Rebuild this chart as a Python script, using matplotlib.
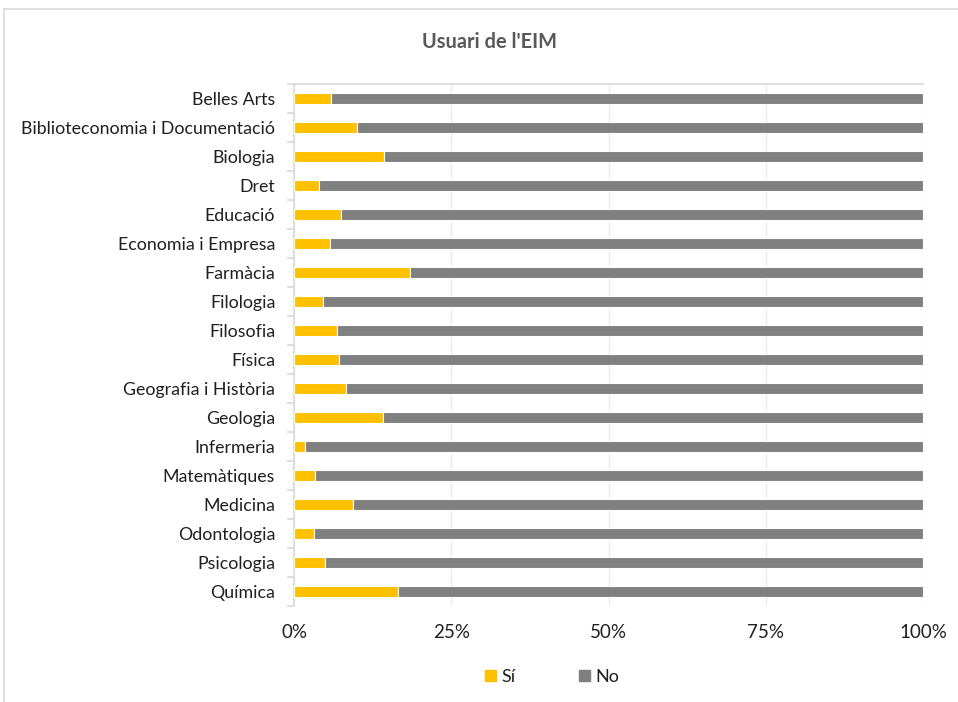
import matplotlib
matplotlib.use('Agg')
import numpy as np
import matplotlib.pyplot as plt
import matplotlib.patches as mpatches

# ---------------------------------------------------------------------------
# Data
# ---------------------------------------------------------------------------
categories = [
    'Belles Arts', 'Biblioteconomia i Documentació', 'Biologia', 'Dret',
    'Educació', 'Economia i Empresa', 'Farmàcia', 'Filologia', 'Filosofia',
    'Física', 'Geografia i Història', 'Geologia', 'Infermeria',
    'Matemàtiques', 'Medicina', 'Odontologia', 'Psicologia', 'Química',
]
si_pct = [5.9, 10.0, 14.3, 4.0, 7.4, 5.8, 18.5, 4.6, 6.8,
          7.1, 8.3, 14.2, 1.8, 3.3, 9.4, 3.2, 5.0, 16.6]
no_pct = [100 - v for v in si_pct]
x_ticks = [0, 25, 50, 75, 100]
x_ticklabels = ['0%', '25%', '50%', '75%', '100%']

YELLOW = '#FFC000'
GRAY = '#808080'
GRID = '#EBEBEB'
AXIS = '#D9D9D9'
TEXT = '#1F1F1F'

plt.rcParams['font.family'] = ['Lato', 'DejaVu Sans']

fig = plt.figure(figsize=(9.58, 7.02), dpi=100)

# chart border
fig.patches.append(mpatches.Rectangle((4 / 958, -0.1), 1.1, 1 - 9 / 702 + 0.1,
                                      transform=fig.transFigure, fill=False,
                                      edgecolor=AXIS, linewidth=1.2))

ax = fig.add_axes([294 / 958, 1 - 606 / 702, 629 / 958, 522 / 702])

y = np.arange(len(categories))
h = 0.4
ax.barh(y, si_pct, height=h, color=YELLOW, edgecolor='white', linewidth=0.8,
        label='Sí', zorder=3)
ax.barh(y, no_pct, left=si_pct, height=h, color=GRAY, edgecolor='white',
        linewidth=0.8, label='No', zorder=3)

ax.set_xlim(0, 100)
ax.set_ylim(len(categories) - 0.5, -0.5)
ax.set_xticks(x_ticks)
ax.set_xticklabels(x_ticklabels, fontsize=13.5, color=TEXT)
ax.set_yticks(y)
ax.set_yticklabels(categories, fontsize=12.8, color=TEXT)
ax.tick_params(axis='y', length=0, pad=13.5)
ax.tick_params(axis='x', length=0, pad=13)
ax.set_yticks(np.arange(-0.5, len(categories), 1), minor=True)
ax.tick_params(axis='y', which='minor', length=5, color=AXIS, width=1.2)

ax.grid(axis='x', color=GRID, linewidth=1, zorder=0)
for side in ['right', 'bottom']:
    ax.spines[side].set_visible(False)
ax.spines['left'].set_color(AXIS)
ax.spines['left'].set_linewidth(1.2)
ax.spines['top'].set_color(AXIS)
ax.spines['top'].set_linewidth(1.2)

fig.text(489 / 958, 1 - 42 / 702, "Usuari de l'EIM", ha='center', va='center',
         fontsize=14.4, fontweight='bold', color='#595959')

fig.legend(handles=[mpatches.Patch(color=YELLOW, label='Sí'),
                    mpatches.Patch(color=GRAY, label='No')],
           loc='center', bbox_to_anchor=(552 / 958, 1 - 677 / 702), ncol=2,
           frameon=False, fontsize=13, handlelength=0.6, handleheight=0.6,
           handletextpad=0.3, columnspacing=3.5,
           labelcolor=TEXT)

fig.savefig('out.png', dpi=100)
